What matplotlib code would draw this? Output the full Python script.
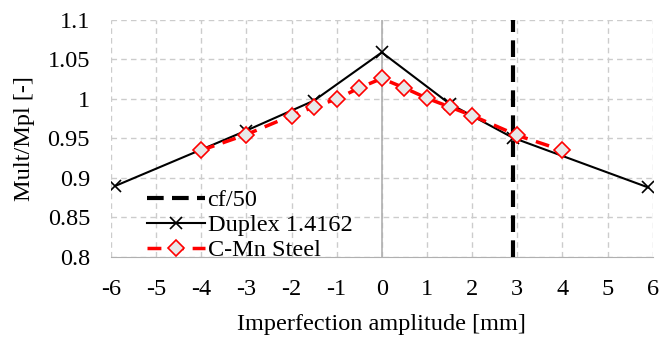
import numpy as np
import matplotlib.pyplot as plt

plt.rcParams['font.family'] = ['Liberation Serif', 'DejaVu Serif']

# data
duplex_x = [-5.9, -3, -1.5, 0, 1.5, 2.9, 5.9]
duplex_y = [0.890, 0.960, 0.998, 1.059, 0.994, 0.951, 0.888]

cmn_x = [-4, -3, -2, -1.5, -1, -0.5, 0, 0.5, 1, 1.5, 2, 3, 4]
cmn_y = [0.935, 0.955, 0.979, 0.990, 1.000, 1.014, 1.026, 1.014, 1.001, 0.990, 0.979, 0.954, 0.935]

cf50_x = [2.9, 2.9]
cf50_y = [0.8, 1.1]

xticks = list(range(-6, 7))
yticks = [0.8, 0.85, 0.9, 0.95, 1.0, 1.05, 1.1]
ytick_labels = ['0.8', '0.85', '0.9', '0.95', '1', '1.05', '1.1']

fig = plt.figure(figsize=(6.6, 3.39), dpi=100)
ax = fig.add_axes([0.168, 0.242, 0.821, 0.699])

fs = 17.5

# vertical line
ax.plot(cf50_x, cf50_y, color='black', lw=3, ls=(0, (4, 2)), label='cf/50', zorder=3)

# duplex
ax.plot(duplex_x, duplex_y, color='black', lw=1.5, marker='x', ms=9, mew=1.2,
        label='Duplex 1.4162', zorder=4)

# carbon manganese steel
ax.plot(cmn_x, cmn_y, color='#ff0000', lw=2.5, ls=(0, (4, 2.5)), marker='D', ms=8,
        mfc='#e8e8e8', mec='#ff0000', mew=1.2, label='C-Mn Steel', zorder=5)

ax.set_xlim(-6, 6)
ax.set_ylim(0.8, 1.1)
ax.set_xticks(xticks)
ax.set_xticklabels([str(t) for t in xticks], fontsize=fs)
ax.set_yticks(yticks)
ax.set_yticklabels(ytick_labels, fontsize=fs)
ax.tick_params(axis='x', length=0, pad=16)
ax.tick_params(axis='y', length=0, pad=15)

ax.grid(True, color='#cccccc', ls=(0, (4, 3)), lw=1)
for s in ['top', 'right', 'left']:
    ax.spines[s].set_visible(False)
ax.spines['bottom'].set_color('#b0b0b0')
ax.axvline(0, color='#b0b0b0', lw=1.2, zorder=2)

ax.set_xlabel('Imperfection amplitude [mm]', fontsize=fs, labelpad=10)
ax.set_ylabel('Mult/Mpl [-]', fontsize=fs, labelpad=9)

leg = ax.legend(loc='lower left', bbox_to_anchor=(0.035, -0.09), frameon=False, fontsize=fs,
                labelspacing=0.12, handlelength=2.4, handletextpad=0.1, borderpad=0.2)

fig.savefig('out.png', dpi=100)
